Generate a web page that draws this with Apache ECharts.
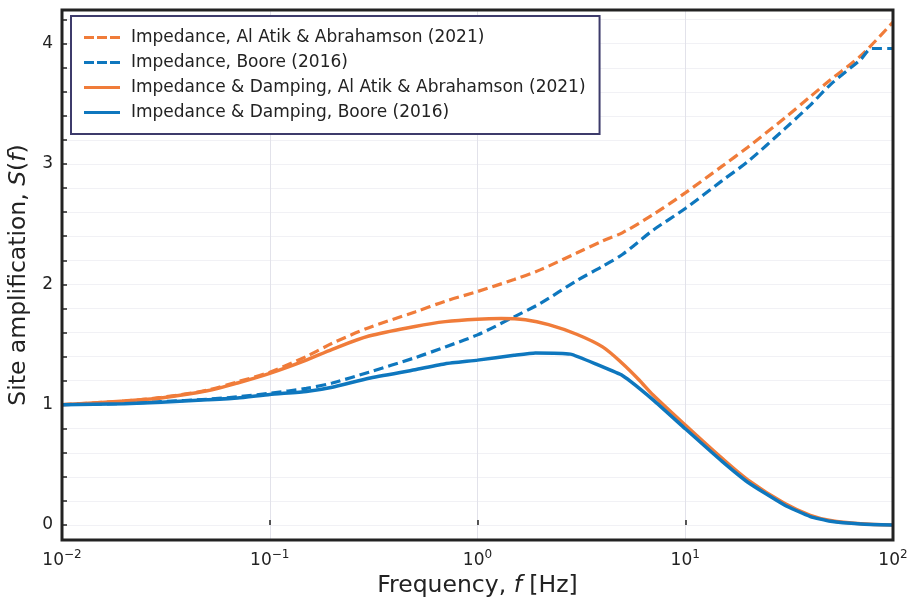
<!DOCTYPE html>
<html>
<head>
<meta charset="utf-8">
<script src="https://cdn.jsdelivr.net/npm/echarts@6/dist/echarts.min.js"></script>
<style>html,body{margin:0;padding:0;background:#fff}#c{width:909px;height:599px}</style>
</head>
<body>
<div id="c"></div>
<script>
const freqA = [0.01,0.02,0.03,0.05,0.07,0.1,0.15,0.2,0.3,0.5,0.7,1,1.5,2,3,4,5,7,10,15,20,30,40,50,70,100];
const impAA = [1.0,1.03,1.06,1.12,1.19,1.27,1.40,1.51,1.64,1.77,1.86,1.94,2.04,2.12,2.26,2.36,2.43,2.58,2.76,2.98,3.14,3.38,3.56,3.70,3.90,4.18];

const freqB = [0.01,0.02,0.03,0.05,0.07,0.1,0.15,0.2,0.3,0.5,0.7,1,1.5,2,3,4,5,7,10,15,20,30,40,50,70,79,100];
const impBoore = [1.0,1.01,1.025,1.045,1.065,1.095,1.135,1.18,1.27,1.39,1.48,1.58,1.73,1.84,2.03,2.15,2.25,2.45,2.63,2.86,3.02,3.29,3.49,3.66,3.87,3.96,3.96];

const freqC = [0.01,0.02,0.03,0.05,0.07,0.1,0.15,0.2,0.3,0.5,0.7,1,1.3,1.7,2.2,3,4,5,6,7,10,15,20,30,40,50,70,100];
const dampAA = [1.0,1.03,1.055,1.115,1.18,1.26,1.37,1.46,1.57,1.65,1.69,1.71,1.715,1.705,1.665,1.585,1.48,1.34,1.205,1.08,0.83,0.555,0.375,0.18,0.08,0.037,0.01,0.0];

const freqD = [0.01,0.02,0.03,0.05,0.07,0.1,0.15,0.2,0.3,0.5,0.7,1,1.5,1.9,2.8,3.8,5,7,10,15,20,30,40,50,70,100];
const dampBoore = [1.0,1.008,1.02,1.04,1.055,1.085,1.11,1.145,1.22,1.29,1.34,1.37,1.41,1.43,1.42,1.33,1.24,1.04,0.80,0.53,0.355,0.166,0.07,0.03,0.008,0.0];

const names = [
  'Impedance, Al Atik & Abrahamson (2021)',
  'Impedance, Boore (2016)',
  'Impedance & Damping, Al Atik & Abrahamson (2021)',
  'Impedance & Damping, Boore (2016)'
];
const yTicks = [0,1,2,3,4];

const ORANGE = '#F07C3A', BLUE = '#0E77BE';
const FONT = 'DejaVu Sans';
const pairs = (xs, ys) => xs.map((x, i) => [x, ys[i]]);
const DASH_ICON = 'path://M0,0h10v3h-10z M13,0h10v3h-10z M26,0h10v3h-10z';
const SOLID_ICON = 'path://M0,0h36v3h-36z';

const chart = echarts.init(document.getElementById('c'), null, {renderer: 'canvas'});
const yMin = -0.125, yMax = 4.28;
const sup = {'-2':'−2','-1':'−1','0':'0','1':'1','2':'2'};
const nameRich = {t: {fontFamily: FONT, fontSize: 23.5, color: '#222'}, i: {fontFamily: FONT, fontStyle: 'italic', fontSize: 23.5, color: '#222'}};
chart.setOption({
  animation: false,
  backgroundColor: '#fff',
  textStyle: {fontFamily: FONT},
  grid: {left: 62, right: 16, top: 10, bottom: 59, show: true, borderColor: '#222', borderWidth: 3, backgroundColor: 'transparent', z: 10, containLabel: false, outerBoundsMode: 'none'},
  legend: {
    orient: 'vertical', left: 71, top: 16,
    padding: [13, 14, 13, 13],
    itemGap: 8, itemWidth: 36, itemHeight: 3,
    backgroundColor: '#fff', borderColor: '#3d3b6b', borderWidth: 2, borderRadius: 0,
    textStyle: {fontFamily: FONT, fontSize: 17, color: '#222', lineHeight: 17, padding: [0,0,0,6]},
    data: [
      {name: names[0], icon: DASH_ICON},
      {name: names[1], icon: DASH_ICON},
      {name: names[2], icon: SOLID_ICON},
      {name: names[3], icon: SOLID_ICON}
    ]
  },
  xAxis: {
    type: 'log', logBase: 10, min: 0.01, max: 100,
    name: '{t|Frequency, }{i|f}{t| [Hz]}', nameLocation: 'middle', nameGap: 32,
    nameTextStyle: {rich: nameRich},
    axisLine: {show: false},
    axisTick: {show: true, inside: true, length: 5, lineStyle: {color: '#222', width: 1.5}},
    splitLine: {show: true, lineStyle: {color: '#e2e2ea', width: 1}},
    axisLabel: {
      margin: 9,
      formatter: v => '{b|10}{s|' + sup[String(Math.round(Math.log10(v)))] + '}',
      rich: {b: {fontFamily: FONT, fontSize: 17, color: '#222', verticalAlign: 'bottom', lineHeight: 20}, s: {fontFamily: FONT, fontSize: 12, color: '#222', verticalAlign: 'top', lineHeight: 20, padding: [0,0,4,0]}}
    }
  },
  yAxis: [{
    type: 'value', min: yMin, max: yMax, splitNumber: 4,
    name: '{t|Site amplification, }{i|S}{t|(}{i|f}{t|)}', nameLocation: 'middle', nameGap: 28,
    nameTextStyle: {rich: nameRich},
    axisLine: {show: false},
    axisTick: {show: true, inside: true, length: 5, lineStyle: {color: '#222', width: 1.5}},
    splitLine: {show: true, lineStyle: {color: '#e4e4ec', width: 1}},
    axisLabel: {margin: 9, fontFamily: FONT, fontSize: 17, color: '#222', showMinLabel: false, showMaxLabel: false,
      formatter: v => yTicks.includes(Math.round(v*1000)/1000) ? String(Math.round(v)) : ''}
  }, {
    type: 'value', min: yMin, max: yMax, splitNumber: 22, position: 'left',
    axisLine: {show: false},
    axisTick: {show: true, inside: true, length: 5, lineStyle: {color: '#222', width: 1.5}},
    splitLine: {show: true, lineStyle: {color: '#f1f1f5', width: 1}},
    axisLabel: {show: false}
  }],
  series: [
    {name: names[0], type: 'line', data: pairs(freqA, impAA), showSymbol: false, symbol: 'none', smooth: 0.3, z: 3,
      lineStyle: {color: ORANGE, width: 3.2, type: [10, 5]}, itemStyle: {color: ORANGE}},
    {name: names[1], type: 'line', data: pairs(freqB, impBoore), showSymbol: false, symbol: 'none', smooth: 0.3, z: 3,
      lineStyle: {color: BLUE, width: 3.2, type: [10, 5]}, itemStyle: {color: BLUE}},
    {name: names[2], type: 'line', data: pairs(freqC, dampAA), showSymbol: false, symbol: 'none', smooth: 0.3, z: 4,
      lineStyle: {color: ORANGE, width: 3.5}, itemStyle: {color: ORANGE}},
    {name: names[3], type: 'line', data: pairs(freqD, dampBoore), showSymbol: false, symbol: 'none', smooth: 0.15, z: 5,
      lineStyle: {color: BLUE, width: 3.5}, itemStyle: {color: BLUE}}
  ]
});
</script>
</body>
</html>
